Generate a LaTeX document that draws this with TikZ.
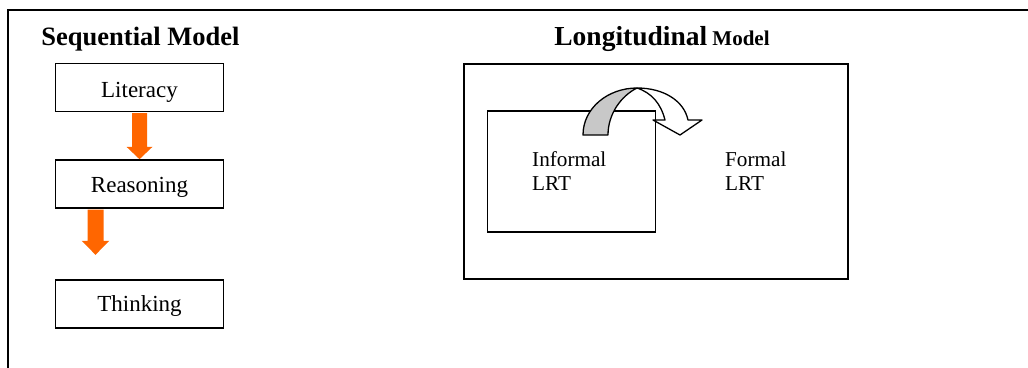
\documentclass[tikz,border=0pt]{standalone}
\usepackage{fontspec}
\setmainfont{Liberation Serif}
\usetikzlibrary{calc}
\definecolor{flow}{HTML}{FF6600}
\definecolor{ribbonback}{HTML}{C8C8C8}
\tikzset{
  stagebox/.style={draw=black, line width=1.6pt, minimum width=168pt, minimum height=48pt, inner sep=0pt},
  label/.style={inner sep=0pt, font=\fontsize{23}{28}\selectfont},
  heading/.style={inner sep=0pt, anchor=base, font=\bfseries\fontsize{26.5}{30}\selectfont},
  flowarrow/.style={fill=flow, draw=none},
}
\begin{document}
\begin{tikzpicture}[x=1pt, y=-1pt]
\useasboundingbox (0,0) rectangle (1028,367);

% page frame (open on the right and at the bottom)
\coordinate (frameTR) at (1030,10);
\coordinate (frameTL) at (8,10);
\coordinate (frameBL) at (8,369);
\draw[line width=1.8pt] (frameTR) -- (frameTL) -- (frameBL);

% ---------- sequential model ----------
\node[heading] (seqtitle) at (140.5,45) {Sequential Model};

\node[stagebox] (literacy) at (139.5,87.5) {};
\node[label, anchor=base] (literacytext) at (139.5,97) {Literacy};
\node[stagebox] (reasoning) at (139.5,184) {};
\node[label, anchor=base] (reasoningtext) at (139.5,192) {Reasoning};
\node[stagebox] (thinking) at (139.5,304) {};
\node[label, anchor=base] (thinkingtext) at (139.5,311.5) {Thinking};

% block arrow below Literacy
\fill[flowarrow]
  ($(literacy.south)+(-7.5,0.8)$) -- ($(literacy.south)+(7.5,0.8)$)
  -- ($(literacy.south)+(7.5,34.5)$) -- ($(literacy.south)+(13,34.5)$)
  -- (reasoning.north) -- ($(literacy.south)+(-13,34.5)$)
  -- ($(literacy.south)+(-7.5,34.5)$) -- cycle;

% block arrow below Reasoning, drawn off to the left
\coordinate (arrowtop) at ($(reasoning.south)+(-44,0.8)$);
\coordinate (arrowtip) at ($(reasoning.south)+(-44,46)$);
\fill[flowarrow]
  ($(arrowtop)+(-8,0)$) -- ($(arrowtop)+(8,0)$)
  -- ($(arrowtop)+(8,31.2)$) -- ($(arrowtop)+(13.8,31.2)$)
  -- (arrowtip) -- ($(arrowtop)+(-13.8,31.2)$)
  -- ($(arrowtop)+(-8,31.2)$) -- cycle;

% ---------- longitudinal model ----------
\node[inner sep=0pt, anchor=base] (longtitle) at (662,45)
  {\bfseries\fontsize{27.5}{30}\selectfont Longitudinal\fontsize{21}{30}\selectfont{} Model};

\node[draw=black, line width=1.6pt, minimum width=384pt, minimum height=215pt, inner sep=0pt]
  (outer) at (656,171.5) {};
\node[draw=black, line width=1.6pt, minimum width=168pt, minimum height=121pt, inner sep=0pt]
  (informal) at (571.5,171.5) {};

% two-line labels: the base anchor sits on the last line
\node[label, anchor=base west, align=left, font=\fontsize{21.2}{23.5}\selectfont]
  (informaltext) at (532,190) {Informal\\LRT};
\node[label, anchor=base west, align=left, font=\fontsize{21.2}{23.5}\selectfont]
  (formaltext) at (725,190) {Formal\\LRT};

% twisted ribbon arrow carrying informal over to formal
\coordinate (ribbontop) at (637,88);
\filldraw[fill=ribbonback, draw=black, line width=1.3pt, line join=round]
  (583,135) .. controls (583,108) and (608,88) .. (ribbontop)
  .. controls (621,96) and (608,114) .. (608,135) -- cycle;
\filldraw[fill=white, draw=black, line width=1.3pt, line join=round]
  (ribbontop) .. controls (664,88) and (684,101) .. (688,120)
  -- (702,120) -- (680,135) -- (653,120) -- (665,120)
  .. controls (661,104) and (652,93) .. (ribbontop) -- cycle;
\end{tikzpicture}
\end{document}
